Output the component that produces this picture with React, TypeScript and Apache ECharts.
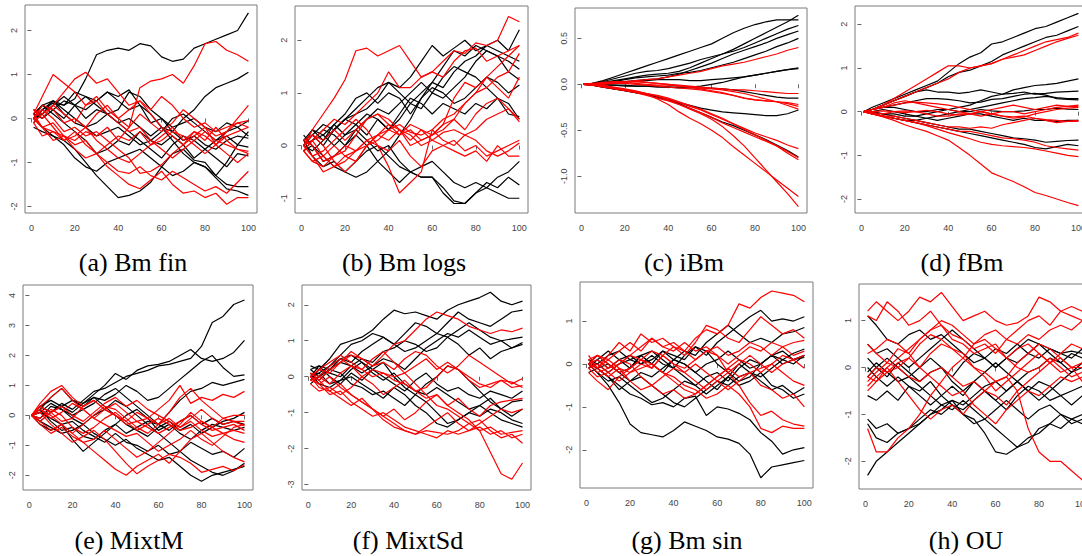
import React, { useEffect, useRef } from "react";
import * as echarts from "echarts";

// x positions sampled along each path
const X = [1, 5, 10, 15, 20, 25, 30, 35, 40, 45, 50, 55, 60, 65, 70, 75, 80, 85, 90, 95, 100];
const X_TICKS = [0, 20, 40, 60, 80, 100];

const CAPTIONS = ["(a) Bm fin", "(b) Bm logs", "(c) iBm", "(d) fBm", "(e) MixtM", "(f) MixtSd", "(g) Bm sin", "(h) OU"];

const A_TICKS = [-2, -1, 0, 1, 2];
const B_TICKS = [-1, 0, 1, 2];
const C_TICKS = [-1.0, -0.5, 0.0, 0.5];
const D_TICKS = [-2, -1, 0, 1, 2];
const E_TICKS = [-2, -1, 0, 1, 2, 3, 4];
const F_TICKS = [-3, -2, -1, 0, 1, 2];
const G_TICKS = [-2, -1, 0, 1];
const H_TICKS = [-2, -1, 0, 1];

const A_BLACK = [
  [0, 0.2, 0.35, 0.3, 0.45, 0.9, 1.45, 1.55, 1.6, 1.55, 1.7, 1.65, 1.4, 1.3, 1.35, 1.6, 1.7, 1.8, 1.9, 2.0, 2.4],
  [0.1, 0.3, 0.4, 0.3, 0.6, 0.5, 0.4, 0.6, 0.5, 0.65, 0.3, 0.1, -0.2, -0.3, 0.0, 0.2, 0.5, 0.7, 0.8, 0.9, 1.05],
  [0, -0.2, -0.4, -0.5, -0.7, -1.0, -1.3, -1.55, -1.8, -1.75, -1.65, -1.45, -1.1, -0.8, -0.7, -0.95, -1.0, -1.3, -1.5, -1.55, -1.55],
  [-0.2, -0.3, -0.4, -0.6, -0.9, -1.1, -1.2, -1.0, -0.9, -0.8, -0.7, -0.9, -1.1, -1.3, -1.2, -1.0, -1.1, -1.35, -1.6, -1.65, -1.75],
  [0.1, 0.3, 0.2, 0.4, 0.3, 0.5, 0.3, 0.1, 0.2, 0.6, 0.5, 0.2, 0.0, -0.2, -0.1, 0.0, -0.2, -0.3, -0.1, -0.2, -0.4],
  [0.0, 0.1, 0.4, 0.2, 0.0, -0.2, -0.1, 0.1, -0.1, -0.3, -0.5, -0.7, -0.9, -0.6, -0.4, -0.5, -0.7, -0.9, -1.1, -0.8, -0.85],
  [-0.1, 0.2, 0.4, 0.1, -0.1, -0.2, -0.4, -0.3, -0.2, -0.4, -0.6, -0.5, -0.3, 0.0, 0.1, -0.1, -0.3, -0.5, -0.4, -0.6, -0.65],
  [0.2, 0.1, 0.3, 0.5, 0.3, 0.0, 0.2, 0.1, -0.1, 0.0, -0.2, -0.4, -0.2, -0.5, -0.8, -1.0, -1.1, -1.3, -1.0, -0.6, -0.3],
  [0.0, 0.3, 0.1, -0.1, -0.3, -0.5, -0.8, -0.7, -0.5, -0.6, -0.3, -0.5, -0.6, -0.4, -0.6, -0.9, -0.7, -0.5, -0.3, -0.2, -0.05],
  [0.1, 0.0, 0.2, 0.0, 0.3, 0.2, 0.4, 0.6, 0.4, 0.2, 0.3, -0.1, 0.0, -0.3, -0.5, -0.4, -0.6, -0.7, -0.5, -0.4, -0.45],
];
const A_RED = [
  [0.1, 0.5, 1.0, 0.8, 0.6, 0.3, 0.5, 0.2, 0.0, -0.2, 0.1, -0.1, -0.3, -0.1, 0.2, 0.0, -0.2, -0.4, -0.3, -0.1, -0.05],
  [0.0, -0.2, -0.3, -0.4, -0.5, -0.3, -0.4, -0.2, -0.5, -0.2, 0.7, 0.85, 0.9, 1.0, 0.8, 1.2, 1.7, 1.75, 1.55, 1.45, 1.3],
  [0.2, 0.1, 0.3, 0.6, 0.9, 1.05, 0.8, 0.9, 0.6, 0.3, 0.4, 0.2, 0.5, 0.3, 0.0, -0.2, -0.1, -0.3, -0.2, -0.1, -0.2],
  [-0.1, -0.4, -0.3, -0.5, -0.3, -0.6, -0.8, -0.6, -0.4, -0.5, -0.3, -0.6, -0.4, -0.2, -0.5, -0.3, -0.4, -0.6, -0.3, 0.0, 0.3],
  [0.0, -0.2, -0.5, -0.4, -0.7, -0.9, -0.8, -1.1, -1.3, -1.5, -1.6, -1.4, -1.2, -1.5, -1.7, -1.65, -1.8, -1.7, -1.95, -1.8, -1.8],
  [0.1, -0.2, -0.1, -0.4, -0.6, -0.5, -0.8, -1.0, -1.2, -1.25, -1.1, -1.3, -1.4, -1.2, -1.35, -1.5, -1.65, -1.55, -1.7, -1.45, -1.2],
  [0.0, 0.2, 0.0, -0.3, -0.2, -0.4, -0.3, -0.5, -0.7, -0.9, -1.25, -1.2, -1.05, -0.8, -0.6, -0.3, -0.5, -0.2, -0.5, -0.7, -0.8],
  [0.2, 0.0, 0.3, 0.1, -0.1, 0.3, 0.4, 0.1, -0.1, -0.3, -0.2, -0.5, -0.7, -0.9, -0.7, -0.5, -0.3, -0.5, -0.6, -0.7, -0.75],
  [-0.1, 0.1, -0.2, -0.5, -0.4, -0.2, -0.5, -0.7, -0.9, -1.0, -0.8, -0.6, -0.5, -0.3, -0.4, -0.6, -0.8, -0.6, -0.4, -0.3, -0.2],
  [0.0, 0.3, 0.2, -0.1, 0.0, -0.2, 0.1, 0.3, 0.0, 0.2, 0.4, 0.1, -0.2, -0.4, -0.6, -0.4, -0.2, -0.6, -0.8, -1.0, -0.8],
];

const B_BLACK = [
  [0.1, 0.2, 0.0, 0.3, 0.5, 0.7, 0.9, 1.1, 1.2, 1.1, 1.3, 1.6, 1.9, 1.7, 1.85, 2.0, 1.8, 1.9, 2.0, 1.8, 2.2],
  [0.0, 0.3, 0.1, 0.4, 0.6, 0.9, 1.0, 0.8, 1.0, 0.9, 0.6, 0.9, 1.2, 1.5, 1.8, 1.7, 1.9, 1.8, 1.7, 1.6, 1.45],
  [-0.1, 0.1, 0.3, 0.2, 0.0, 0.3, 0.5, 0.7, 0.6, 0.8, 1.0, 1.2, 1.0, 1.3, 1.5, 1.4, 1.3, 1.1, 0.9, 0.8, 0.5],
  [0.2, 0.0, -0.2, -0.4, -0.5, -0.6, -0.5, -0.3, -0.1, 0.2, 0.5, 0.9, 1.1, 1.0, 0.8, 0.9, 1.1, 1.3, 1.2, 1.0, 1.15],
  [0.0, 0.1, 0.2, 0.4, 0.2, 0.3, 0.1, -0.1, 0.0, -0.3, -0.5, -0.6, -0.6, -0.8, -1.05, -1.1, -0.9, -0.8, -0.6, -0.5, -0.3],
  [0.1, -0.2, -0.4, -0.3, -0.5, -0.3, -0.1, 0.0, -0.2, -0.4, -0.5, -0.6, -0.6, -0.9, -1.1, -1.1, -0.9, -0.7, -0.8, -0.6, -0.75],
  [-0.1, 0.0, -0.3, -0.2, 0.0, 0.2, 0.0, -0.3, -0.5, -0.7, -0.5, -0.4, -0.3, -0.5, -0.7, -0.8, -0.7, -0.8, -0.9, -1.0, -1.0],
  [0.0, 0.2, 0.4, 0.3, 0.5, 0.6, 0.7, 0.9, 1.2, 1.0, 0.8, 0.7, 1.0, 0.9, 1.1, 1.3, 1.6, 1.8, 1.7, 1.4, 1.25],
  [0.1, 0.3, 0.2, 0.0, 0.2, 0.4, 0.2, 0.5, 0.3, 0.6, 0.9, 0.8, 0.6, 0.8, 0.7, 0.6, 0.8, 0.7, 0.9, 0.6, 0.55],
  [0.0, -0.1, 0.1, 0.3, 0.5, 0.4, 0.6, 0.5, 0.3, 0.5, 0.8, 1.0, 1.2, 1.1, 1.4, 1.6, 1.7, 1.9, 1.8, 1.7, 1.6],
];
const B_RED = [
  [0.0, 0.3, 0.6, 0.9, 1.25, 1.8, 1.85, 1.7, 1.8, 1.9, 1.6, 1.3, 1.4, 1.6, 1.8, 1.75, 1.95, 1.9, 2.0, 2.45, 2.35],
  [-0.1, 0.1, 0.3, 0.5, 0.4, 0.6, 0.8, 1.0, 1.4, 1.1, 1.1, 1.3, 1.4, 1.3, 1.6, 1.8, 1.85, 1.6, 1.7, 1.8, 1.9],
  [0.0, -0.2, -0.1, 0.1, 0.3, 0.5, 0.3, 0.0, -0.4, -0.9, -0.7, -0.5, 0.3, 0.5, 0.6, 0.8, 1.0, 1.1, 1.3, 1.4, 1.75],
  [0.1, 0.0, -0.3, -0.2, -0.1, 0.2, 0.5, 0.6, 0.4, 0.2, 0.3, 0.1, 0.2, 0.4, 0.9, 1.2, 1.1, 1.3, 1.1, 0.9, 1.3],
  [-0.1, -0.3, -0.2, 0.0, -0.2, -0.1, 0.1, 0.2, 0.3, 0.4, 0.25, 0.2, 0.3, 0.1, 0.0, 0.2, 0.3, 0.5, 0.6, 0.7, 0.5],
  [0.0, 0.1, -0.2, -0.4, -0.3, -0.1, 0.0, 0.2, 0.1, 0.3, 0.2, 0.0, 0.1, 0.25, 0.3, 0.2, 0.1, -0.1, -0.2, -0.1, 0.05],
  [0.1, 0.2, 0.0, -0.3, -0.5, -0.3, 0.0, 0.1, 0.3, 0.2, 0.4, 0.3, 0.1, 0.0, -0.1, -0.2, -0.1, -0.3, 0.0, -0.2, -0.2],
  [0.0, -0.2, -0.5, -0.4, -0.2, -0.3, 0.0, 0.2, 0.4, 0.3, 0.1, 0.3, 0.2, 0.4, 0.5, 0.3, 0.6, 0.8, 0.9, 0.7, 0.45],
  [0.0, 0.2, 0.1, 0.3, 0.1, 0.3, 0.5, 0.6, 0.5, 0.3, 0.0, 0.1, 0.2, 0.3, 0.5, 0.8, 1.0, 1.3, 1.5, 1.7, 1.9],
  [-0.1, -0.3, -0.4, -0.2, 0.0, -0.1, 0.1, 0.0, -0.1, 0.1, -0.2, -0.4, -0.1, 0.0, 0.1, -0.1, 0.0, -0.2, -0.1, 0.0, 0.1],
];

const C_BLACK = [
  [0, 0.01, 0.04, 0.08, 0.12, 0.16, 0.2, 0.24, 0.28, 0.32, 0.36, 0.4, 0.44, 0.5, 0.56, 0.61, 0.65, 0.68, 0.7, 0.7, 0.7],
  [0, 0.0, 0.02, 0.04, 0.06, 0.08, 0.1, 0.11, 0.12, 0.14, 0.18, 0.23, 0.28, 0.33, 0.38, 0.44, 0.5, 0.56, 0.62, 0.68, 0.75],
  [0, 0.01, 0.03, 0.06, 0.09, 0.12, 0.14, 0.15, 0.17, 0.2, 0.23, 0.27, 0.3, 0.33, 0.36, 0.4, 0.45, 0.5, 0.55, 0.6, 0.64],
  [0, 0.0, 0.01, 0.02, 0.03, 0.04, 0.05, 0.06, 0.08, 0.11, 0.15, 0.19, 0.23, 0.28, 0.33, 0.37, 0.41, 0.45, 0.5, 0.54, 0.58],
  [0, 0.0, 0.01, 0.03, 0.05, 0.07, 0.08, 0.09, 0.1, 0.12, 0.13, 0.15, 0.18, 0.21, 0.24, 0.28, 0.32, 0.36, 0.41, 0.45, 0.5],
  [0, 0.0, 0.0, -0.01, -0.01, -0.02, -0.02, -0.02, -0.03, -0.03, -0.03, -0.02, 0.0, 0.02, 0.05, 0.08, 0.1, 0.12, 0.14, 0.16, 0.18],
  [0, 0.0, 0.01, 0.02, 0.03, 0.03, 0.04, 0.05, 0.05, 0.05, 0.04, 0.04, 0.05, 0.06, 0.07, 0.08, 0.1, 0.12, 0.14, 0.16, 0.17],
  [0, 0.0, -0.01, -0.01, -0.02, -0.02, -0.02, -0.03, -0.03, -0.04, -0.04, -0.04, -0.04, -0.05, -0.06, -0.08, -0.1, -0.12, -0.14, -0.15, -0.15],
  [0, -0.01, -0.03, -0.05, -0.07, -0.09, -0.11, -0.14, -0.17, -0.2, -0.23, -0.26, -0.28, -0.3, -0.31, -0.32, -0.33, -0.34, -0.34, -0.32, -0.28],
  [0, -0.01, -0.03, -0.05, -0.07, -0.09, -0.11, -0.14, -0.17, -0.21, -0.26, -0.31, -0.36, -0.41, -0.45, -0.5, -0.55, -0.6, -0.66, -0.72, -0.79],
];
const C_RED = [
  [0, 0.0, 0.01, 0.02, 0.03, 0.04, 0.05, 0.06, 0.08, 0.1, 0.12, 0.14, 0.17, 0.2, 0.22, 0.24, 0.27, 0.3, 0.33, 0.37, 0.4],
  [0, 0.01, 0.02, 0.03, 0.03, 0.03, 0.02, 0.01, 0.0, -0.01, -0.02, -0.03, -0.04, -0.05, -0.06, -0.06, -0.07, -0.08, -0.09, -0.1, -0.1],
  [0, 0.0, 0.01, 0.02, 0.02, 0.01, 0.0, -0.01, -0.01, -0.02, -0.03, -0.05, -0.07, -0.09, -0.12, -0.15, -0.17, -0.18, -0.19, -0.2, -0.22],
  [0, 0.0, 0.0, 0.01, 0.01, 0.0, -0.01, -0.02, -0.03, -0.04, -0.05, -0.06, -0.08, -0.1, -0.12, -0.15, -0.17, -0.18, -0.19, -0.21, -0.24],
  [0, 0.0, 0.01, 0.02, 0.03, 0.03, 0.02, 0.01, 0.0, -0.02, -0.03, -0.04, -0.05, -0.06, -0.08, -0.1, -0.13, -0.16, -0.19, -0.23, -0.27],
  [0, -0.01, -0.02, -0.04, -0.06, -0.08, -0.1, -0.13, -0.16, -0.2, -0.24, -0.28, -0.33, -0.38, -0.43, -0.48, -0.53, -0.57, -0.61, -0.66, -0.7],
  [0, -0.01, -0.02, -0.04, -0.06, -0.08, -0.1, -0.12, -0.15, -0.19, -0.23, -0.27, -0.32, -0.37, -0.43, -0.49, -0.55, -0.61, -0.67, -0.75, -0.82],
  [0, -0.01, -0.02, -0.04, -0.06, -0.08, -0.11, -0.16, -0.22, -0.3, -0.37, -0.43, -0.5, -0.58, -0.68, -0.77, -0.86, -0.95, -1.04, -1.13, -1.22],
  [0, 0.0, -0.01, -0.03, -0.05, -0.07, -0.1, -0.13, -0.17, -0.22, -0.27, -0.32, -0.38, -0.46, -0.56, -0.67, -0.8, -0.93, -1.06, -1.19, -1.33],
  [0, -0.01, -0.03, -0.05, -0.07, -0.09, -0.12, -0.15, -0.18, -0.22, -0.26, -0.31, -0.36, -0.42, -0.47, -0.52, -0.57, -0.62, -0.67, -0.73, -0.8],
];

const D_BLACK = [
  [0, 0.1, 0.2, 0.3, 0.4, 0.5, 0.6, 0.7, 0.9, 1.1, 1.25, 1.35, 1.55, 1.6, 1.7, 1.8, 1.9, 1.95, 2.05, 2.15, 2.25],
  [0, 0.05, 0.15, 0.25, 0.35, 0.45, 0.55, 0.65, 0.8, 0.9, 0.95, 1.05, 1.15, 1.3, 1.4, 1.5, 1.6, 1.7, 1.75, 1.85, 1.95],
  [0, 0.0, 0.05, 0.0, -0.05, -0.1, -0.05, 0.0, 0.05, 0.1, 0.15, 0.25, 0.35, 0.4, 0.5, 0.55, 0.6, 0.62, 0.65, 0.7, 0.75],
  [0, 0.05, 0.15, 0.25, 0.35, 0.45, 0.5, 0.45, 0.45, 0.42, 0.45, 0.5, 0.45, 0.4, 0.42, 0.45, 0.4, 0.42, 0.45, 0.46, 0.47],
  [0, 0.05, 0.1, 0.15, 0.2, 0.25, 0.3, 0.3, 0.28, 0.25, 0.2, 0.22, 0.28, 0.3, 0.35, 0.4, 0.42, 0.38, 0.3, 0.28, 0.27],
  [0, -0.05, -0.1, -0.15, -0.2, -0.2, -0.15, -0.1, -0.05, 0.0, 0.05, 0.1, 0.15, 0.2, 0.25, 0.3, 0.32, 0.35, 0.32, 0.3, 0.3],
  [0, 0.05, 0.1, 0.1, 0.05, 0.0, 0.0, 0.05, 0.05, 0.0, 0.0, 0.05, 0.02, 0.0, 0.0, 0.02, 0.05, 0.05, 0.08, 0.06, 0.05],
  [0, 0.0, -0.05, -0.05, -0.1, -0.1, -0.15, -0.2, -0.15, -0.1, -0.05, -0.05, -0.1, -0.15, -0.2, -0.15, -0.2, -0.2, -0.22, -0.2, -0.2],
  [0, -0.02, -0.05, -0.1, -0.15, -0.2, -0.25, -0.3, -0.35, -0.4, -0.4, -0.45, -0.5, -0.55, -0.6, -0.62, -0.65, -0.7, -0.68, -0.66, -0.65],
  [0, -0.05, -0.1, -0.15, -0.2, -0.25, -0.3, -0.35, -0.4, -0.45, -0.5, -0.55, -0.6, -0.65, -0.7, -0.75, -0.82, -0.85, -0.8, -0.75, -0.78],
];
const D_RED = [
  [0, 0.05, 0.15, 0.3, 0.45, 0.6, 0.75, 0.9, 1.05, 1.05, 1.0, 1.05, 1.1, 1.2, 1.3, 1.4, 1.5, 1.6, 1.65, 1.7, 1.8],
  [0, 0.05, 0.15, 0.25, 0.35, 0.45, 0.55, 0.65, 0.75, 0.9, 1.0, 1.05, 1.1, 1.2, 1.25, 1.3, 1.4, 1.5, 1.6, 1.68, 1.75],
  [0, 0.05, 0.1, 0.2, 0.25, 0.2, 0.15, 0.1, 0.05, 0.0, -0.05, 0.0, 0.05, 0.1, 0.15, 0.1, 0.05, 0.1, 0.15, 0.12, 0.15],
  [0, -0.02, -0.05, 0.0, 0.02, 0.0, -0.05, -0.1, -0.1, -0.05, -0.05, -0.1, -0.05, 0.0, 0.0, -0.05, 0.0, 0.05, 0.1, 0.12, 0.12],
  [0, 0.0, 0.02, 0.0, -0.02, 0.0, 0.03, 0.0, -0.05, -0.08, -0.05, 0.0, -0.05, -0.1, -0.12, -0.1, -0.15, -0.18, -0.2, -0.22, -0.2],
  [0, -0.05, -0.1, -0.1, -0.15, -0.2, -0.25, -0.3, -0.35, -0.35, -0.38, -0.35, -0.38, -0.3, -0.25, -0.2, -0.15, -0.2, -0.25, -0.22, -0.22],
  [0, -0.05, -0.1, -0.15, -0.2, -0.25, -0.3, -0.35, -0.4, -0.45, -0.45, -0.5, -0.55, -0.6, -0.62, -0.65, -0.7, -0.78, -0.82, -0.85, -0.88],
  [0, -0.05, -0.1, -0.15, -0.2, -0.25, -0.32, -0.4, -0.48, -0.55, -0.62, -0.7, -0.75, -0.78, -0.8, -0.82, -0.85, -0.9, -0.95, -1.0, -1.03],
  [0, -0.05, -0.12, -0.2, -0.3, -0.38, -0.45, -0.55, -0.65, -0.82, -1.0, -1.2, -1.4, -1.5, -1.6, -1.72, -1.85, -1.92, -2.0, -2.08, -2.15],
  [0, 0.05, 0.1, 0.15, 0.2, 0.22, 0.2, 0.18, 0.15, 0.1, 0.05, 0.0, -0.05, -0.1, -0.15, -0.12, -0.05, 0.0, 0.05, 0.08, 0.1],
];

const E_BLACK = [
  [0, 0.3, 0.1, 0.4, 0.2, 0.5, 0.8, 0.9, 1.1, 1.3, 1.4, 1.5, 1.65, 1.7, 1.8, 1.9, 2.3, 3.1, 3.3, 3.7, 3.85],
  [0, -0.2, 0.1, 0.3, 0.5, 0.4, 0.7, 1.0, 1.4, 1.2, 1.5, 1.65, 1.7, 1.8, 2.0, 2.2, 1.9, 1.8, 1.9, 2.1, 2.5],
  [0, 0.2, 0.6, 0.9, 0.5, 0.3, 0.6, 0.5, 0.7, 1.0, 0.8, 0.5, 0.6, 0.9, 1.2, 1.5, 1.8, 2.0, 1.6, 1.3, 1.35],
  [0, -0.1, 0.3, 0.2, 0.0, 0.2, 0.4, 0.7, 0.9, 0.6, 0.3, 0.0, -0.3, 0.1, 0.5, 0.8, 0.9, 1.1, 1.0, 1.1, 1.2],
  [0, 0.3, 0.5, 0.3, 0.1, 0.4, 0.6, 0.3, 0.0, -0.3, -0.5, -0.7, -0.4, -0.2, -0.5, -0.3, -0.6, -0.4, -0.2, -0.1, 0.1],
  [0, 0.2, -0.2, -0.5, -0.4, -0.7, -0.8, -0.5, -0.3, -0.6, -0.4, -0.2, -0.3, -0.5, -0.2, 0.0, -0.3, -0.1, -0.3, -0.2, -0.3],
  [0, -0.3, -0.5, -0.3, -0.8, -1.2, -0.9, -0.6, -0.3, 0.0, 0.2, -0.1, -0.5, -0.3, -0.6, -0.8, -0.5, -0.3, -0.4, -0.5, -0.4],
  [0, 0.1, 0.4, 0.2, -0.1, -0.3, 0.0, 0.2, 0.5, 0.3, 0.0, -0.3, -0.6, -0.9, -1.2, -0.9, -1.1, -1.3, -1.2, -1.4, -1.1],
  [0, -0.2, -0.4, -0.6, -0.5, -0.3, -0.6, -0.8, -1.0, -0.8, -1.1, -1.3, -1.5, -1.4, -1.7, -2.0, -2.2, -2.0, -1.9, -1.8, -1.7],
  [0, 0.1, -0.1, -0.3, -0.2, -0.5, -0.7, -0.9, -0.6, -0.9, -1.0, -1.2, -1.0, -1.3, -1.2, -1.5, -1.7, -1.9, -2.0, -1.85, -1.6],
];
const E_RED = [
  [0, 0.3, 0.6, 0.9, 0.5, 0.2, -0.1, 0.2, 0.4, 0.1, -0.2, -0.1, 0.2, 0.5, 1.0, 0.4, 0.6, 0.5, 0.7, 0.6, 0.8],
  [0, 0.4, 0.8, 1.0, 0.6, 0.3, 0.5, 0.2, 0.0, -0.2, 0.1, -0.1, -0.3, 0.1, 0.6, 0.9, 0.5, 0.2, -0.1, -0.2, -0.35],
  [0, -0.2, -0.5, -0.3, -0.6, -0.9, -1.2, -1.5, -1.8, -2.0, -1.7, -1.5, -1.3, -1.6, -1.2, -0.8, -0.6, -0.9, -1.2, -1.4, -1.55],
  [0, 0.1, -0.3, -0.6, -0.9, -0.7, -0.5, -0.8, -1.2, -1.6, -1.95, -1.7, -1.5, -1.3, -1.4, -1.6, -1.9, -1.8, -1.7, -1.85, -1.65],
  [0, 0.2, 0.0, -0.3, -0.6, -0.3, 0.0, 0.3, 0.2, -0.1, -0.4, -0.6, -0.3, -0.1, -0.4, -0.2, -0.5, -0.7, -0.6, -0.8, -0.9],
  [0, -0.1, 0.2, 0.0, -0.4, -0.6, -0.4, -0.1, 0.1, -0.2, -0.5, -0.3, -0.1, -0.3, -0.5, -0.4, -0.2, -0.4, -0.6, -0.5, -0.6],
  [0, 0.3, 0.1, -0.2, -0.1, 0.3, 0.5, 0.2, 0.0, -0.3, -0.2, -0.4, -0.6, -0.4, -0.2, 0.0, -0.3, -0.5, -0.4, -0.3, -0.5],
  [0, -0.3, -0.6, -0.4, -0.7, -0.9, -0.8, -0.5, -0.8, -1.1, -1.4, -1.2, -0.9, -0.6, -0.3, 0.1, -0.2, -0.4, -0.1, 0.0, 0.0],
  [0, 0.2, -0.1, 0.1, 0.4, 0.2, -0.1, -0.3, -0.5, -0.7, -0.6, -0.9, -1.2, -1.0, -0.8, -0.5, -0.8, -1.0, -0.7, -0.4, -0.3],
  [0, -0.2, 0.1, 0.3, 0.0, -0.2, 0.1, 0.4, 0.6, 0.3, 0.5, 0.2, 0.0, -0.2, -0.4, -0.1, 0.2, -0.1, -0.3, -0.2, -0.2],
];

const F_BLACK = [
  [0.3, 0.2, 0.5, 0.9, 1.0, 1.1, 1.3, 1.6, 1.85, 1.75, 1.8, 1.7, 1.6, 1.85, 2.0, 2.1, 2.2, 2.35, 2.1, 2.0, 2.1],
  [0.2, 0.0, 0.3, 0.6, 0.9, 1.0, 1.2, 1.1, 0.9, 1.2, 1.5, 1.4, 1.2, 1.5, 1.8, 1.6, 1.5, 1.4, 1.6, 1.8, 1.85],
  [0.0, 0.3, 0.2, 0.5, 0.4, 0.7, 0.9, 1.1, 0.9, 0.7, 0.8, 1.0, 1.2, 1.1, 1.3, 1.5, 1.3, 1.1, 1.0, 1.05, 1.1],
  [-0.1, 0.2, 0.1, 0.0, 0.3, 0.5, 0.4, 0.7, 0.8, 1.0, 0.9, 0.7, 0.8, 1.1, 0.9, 0.6, 0.8, 0.5, 0.7, 0.8, 0.95],
  [0.1, -0.1, 0.2, 0.4, 0.3, 0.1, 0.3, 0.5, 0.4, 0.2, 0.5, 0.8, 1.0, 1.2, 1.1, 1.3, 1.1, 0.9, 1.0, 0.8, 0.9],
  [0.0, 0.1, -0.2, -0.1, 0.2, 0.4, 0.2, 0.0, -0.2, -0.4, -0.1, 0.1, -0.2, -0.4, -0.3, -0.5, -0.6, -0.4, -0.5, -0.6, -0.4],
  [0.2, 0.3, 0.0, -0.2, 0.1, -0.1, 0.2, 0.4, 0.0, -0.3, -0.5, -0.7, -1.0, -1.3, -1.2, -1.0, -0.8, -0.6, -0.9, -0.7, -0.65],
  [-0.2, 0.0, 0.2, 0.1, -0.2, -0.3, -0.5, -0.4, -0.6, -0.8, -0.5, -0.2, 0.0, 0.3, 0.2, -0.1, -0.4, -0.7, -0.9, -1.1, -0.9],
  [0.1, -0.2, -0.3, -0.1, 0.0, -0.2, -0.4, -0.6, -0.3, -0.5, -0.8, -1.0, -1.3, -1.4, -1.2, -1.0, -1.1, -0.9, -1.0, -1.2, -1.3],
  [0.0, 0.1, 0.3, 0.5, 0.6, 0.4, 0.1, -0.1, 0.1, -0.2, -0.4, -0.5, -0.3, -0.5, -0.7, -0.9, -0.8, -1.0, -1.2, -1.3, -1.4],
];
const F_RED = [
  [0.0, -0.1, 0.2, 0.4, 0.6, 0.5, 0.3, 0.6, 0.9, 1.0, 1.3, 1.6, 1.8, 1.7, 1.6, 1.4, 1.3, 1.2, 1.3, 1.25, 1.35],
  [0.0, 0.2, 0.1, 0.4, 0.7, 0.5, 0.3, 0.4, 0.2, 0.5, 0.7, 0.6, 0.3, 0.1, 0.3, 0.6, 0.4, 0.2, 0.0, -0.2, -0.05],
  [-0.1, 0.0, -0.2, 0.1, 0.3, 0.2, 0.0, 0.1, -0.1, -0.2, -0.4, -0.3, 0.0, 0.3, 0.2, -0.1, -0.3, -0.2, -0.1, -0.3, -0.25],
  [0.0, -0.3, -0.4, -0.2, -0.5, -0.7, -0.9, -1.1, -0.9, -1.2, -1.0, -0.7, -0.5, -0.8, -0.6, -0.9, -1.1, -0.8, -0.7, -0.65, -0.6],
  [0.1, -0.1, -0.4, -0.6, -0.8, -0.6, -0.9, -1.2, -1.4, -1.5, -1.6, -1.4, -1.2, -1.0, -1.3, -1.5, -1.3, -1.1, -0.9, -1.0, -0.9],
  [-0.1, -0.2, 0.0, -0.3, -0.5, -0.7, -0.9, -1.1, -1.3, -1.5, -1.6, -1.5, -1.55, -1.6, -1.5, -1.3, -1.5, -1.4, -1.6, -1.55, -1.5],
  [0.0, -0.2, -0.5, -0.4, -0.7, -0.9, -1.1, -1.0, -1.2, -1.4, -1.5, -1.6, -1.7, -1.5, -1.6, -1.5, -1.4, -1.6, -1.5, -1.7, -1.6],
  [0.1, 0.0, 0.3, 0.5, 0.3, 0.0, -0.2, -0.5, -0.3, -0.1, -0.4, -0.6, -0.5, -0.8, -1.0, -1.2, -1.5, -2.1, -2.7, -2.85, -2.4],
  [0.0, 0.2, 0.4, 0.6, 0.4, 0.2, 0.5, 0.7, 0.4, 0.1, -0.2, -0.5, -0.8, -0.9, -1.1, -1.3, -1.2, -1.5, -1.7, -1.6, -1.85],
  [-0.2, -0.4, -0.3, -0.5, -0.3, 0.0, 0.2, 0.1, 0.0, 0.1, 0.3, 0.5, 0.2, 0.4, 0.2, 0.0, -0.2, -0.3, -0.1, -0.15, -0.3],
];

const G_BLACK = [
  [0, -0.2, -0.5, -0.9, -1.4, -1.6, -1.65, -1.7, -1.55, -1.35, -1.45, -1.55, -1.7, -1.75, -1.85, -2.1, -2.65, -2.4, -2.35, -2.3, -2.25],
  [0, -0.1, -0.3, -0.5, -0.7, -0.8, -0.95, -0.9, -1.0, -0.8, -0.75, -1.2, -1.0, -1.05, -1.15, -1.3, -1.6, -1.8, -2.1, -2.0, -1.95],
  [0, 0.1, -0.1, 0.1, 0.2, 0.0, 0.1, 0.3, 0.2, 0.1, 0.4, 0.2, 0.5, 0.7, 0.9, 1.1, 1.25, 1.0, 1.05, 1.0, 1.1],
  [-0.1, 0.1, 0.3, 0.1, -0.1, 0.2, 0.0, -0.2, 0.1, 0.3, 0.2, 0.5, 0.7, 0.9, 0.7, 0.5, 0.6, 0.5, 0.7, 0.75, 0.85],
  [0, -0.2, -0.4, -0.3, -0.5, -0.7, -0.9, -0.8, -0.6, -0.4, -0.5, -0.3, -0.2, -0.4, -0.1, 0.1, 0.0, 0.2, 0.1, 0.25, 0.35],
  [0.1, 0.0, 0.2, 0.3, 0.1, 0.2, 0.0, 0.3, 0.1, 0.0, -0.2, 0.0, 0.1, 0.3, 0.1, -0.1, 0.0, 0.2, 0.0, 0.1, 0.2],
  [-0.2, -0.1, 0.0, -0.2, -0.1, 0.2, 0.3, 0.1, -0.1, 0.2, 0.4, 0.3, 0.0, -0.2, -0.4, -0.3, 0.0, 0.2, 0.3, 0.1, 0.15],
  [0, 0.2, 0.0, -0.2, -0.4, -0.3, -0.5, -0.7, -0.9, -1.0, -0.8, -0.6, -0.4, -0.5, -0.3, -0.2, -0.4, -0.6, -0.5, -0.7, -0.55],
  [0.1, -0.1, -0.3, -0.6, -0.4, -0.2, -0.3, -0.1, 0.1, 0.0, -0.2, -0.4, -0.6, -0.3, -0.5, -0.4, -0.2, -0.5, -0.6, -0.8, -0.7],
  [-0.1, 0.0, -0.2, 0.0, 0.1, 0.0, 0.2, 0.0, -0.1, -0.3, -0.5, -0.7, -0.5, -0.3, 0.0, -0.2, -0.3, -0.1, 0.1, 0.0, 0.2],
];
const G_RED = [
  [0, 0.2, 0.1, 0.3, 0.5, 0.3, 0.6, 0.4, 0.5, 0.3, 0.6, 0.8, 0.7, 0.9, 1.4, 1.3, 1.55, 1.7, 1.65, 1.6, 1.45],
  [0.2, -0.1, 0.2, 0.5, 0.3, 0.7, 0.5, 0.6, 0.4, 0.2, 0.5, 0.9, 0.8, 0.6, 0.5, 0.8, 1.1, 0.9, 0.7, 0.8, 0.6],
  [-0.2, -0.4, -0.6, -0.3, -0.1, 0.1, 0.3, 0.2, 0.4, 0.3, 0.1, 0.3, 0.4, 0.2, 0.3, 0.5, 0.4, 0.2, 0.4, 0.5, 0.55],
  [0, 0.1, -0.1, 0.0, 0.2, 0.4, 0.6, 0.4, 0.3, 0.5, 0.3, 0.4, 0.2, 0.0, 0.2, 0.4, 0.3, 0.5, 0.4, 0.2, 0.3],
  [0, -0.1, 0.1, -0.1, -0.2, -0.1, 0.0, -0.2, -0.4, -0.6, -0.7, -0.5, -0.3, -0.1, 0.1, 0.0, -0.2, 0.0, 0.2, 0.1, 0.2],
  [0.1, -0.1, -0.3, -0.1, -0.4, -0.6, -0.5, -0.3, -0.1, -0.2, 0.0, -0.2, -0.4, -0.6, -0.4, -0.2, -0.1, 0.0, -0.2, -0.4, -0.5],
  [0, -0.2, -0.1, 0.1, 0.0, -0.3, -0.5, -0.7, -0.6, -0.8, -0.7, -0.5, -0.3, -0.1, -0.3, -0.2, -0.5, -0.6, -0.8, -0.7, -1.0],
  [-0.1, -0.3, -0.2, 0.0, 0.2, 0.1, -0.1, 0.2, 0.0, -0.1, 0.1, 0.3, 0.2, -0.2, -0.5, -0.9, -1.2, -1.1, -1.3, -1.4, -1.45],
  [0.1, 0.2, 0.0, -0.2, -0.1, 0.1, 0.0, -0.2, -0.3, -0.5, -0.6, -0.8, -0.7, -0.5, -0.7, -1.0, -1.5, -1.6, -1.45, -1.5, -1.5],
  [-0.1, 0.0, -0.2, -0.4, -0.2, 0.0, -0.1, 0.2, 0.0, -0.2, -0.4, -0.6, -0.4, -0.2, 0.0, 0.2, 0.0, -0.2, 0.0, 0.1, -0.1],
];

const H_BLACK = [
  [-2.3, -2.0, -1.8, -1.6, -1.4, -1.2, -1.0, -0.9, -0.7, -0.8, -0.6, -0.4, -0.3, -0.5, -0.3, -0.1, 0.0, 0.2, 0.1, 0.3, 0.2],
  [-1.1, -1.3, -1.2, -1.4, -1.3, -1.1, -0.9, -1.0, -0.8, -0.9, -0.7, -0.5, -0.7, -0.9, -0.6, -0.4, -0.5, -0.7, -0.6, -0.8, -0.6],
  [-1.2, -1.5, -1.6, -1.4, -1.3, -1.2, -1.0, -0.8, -0.9, -0.7, -0.9, -1.1, -1.3, -1.5, -1.7, -1.5, -1.4, -1.2, -1.3, -1.1, -1.2],
  [1.1, 0.9, 0.6, 0.5, 0.7, 0.8, 0.6, 0.7, 0.5, 0.3, 0.1, 0.2, 0.0, 0.2, 0.4, 0.6, 0.5, 0.4, 0.3, 0.35, 0.3],
  [-0.6, -0.7, -0.5, -0.7, -0.4, -0.5, -0.3, -0.6, -0.8, -1.0, -1.1, -1.4, -1.8, -1.85, -1.7, -1.6, -1.3, -1.2, -1.0, -1.1, -1.0],
  [0.2, 0.0, -0.2, 0.1, -0.1, -0.3, -0.1, 0.0, -0.3, -0.5, -0.3, -0.1, 0.1, -0.1, -0.3, -0.5, -0.7, -0.5, -0.3, -0.1, 0.0],
  [-0.1, 0.1, -0.1, -0.3, -0.2, 0.0, 0.2, 0.0, -0.2, 0.1, 0.3, 0.2, 0.4, 0.3, 0.5, 0.3, 0.2, 0.4, 0.3, 0.2, 0.4],
  [0.5, 0.3, 0.4, 0.2, 0.0, 0.2, 0.4, 0.6, 0.8, 0.6, 0.4, 0.2, 0.0, 0.2, 0.1, 0.3, 0.5, 0.3, 0.1, -0.1, 0.1],
  [0.0, -0.2, -0.4, -0.2, -0.4, -0.6, -0.8, -0.6, -0.4, -0.6, -0.3, -0.5, -0.7, -0.5, -0.3, -0.5, -0.3, -0.4, -0.6, -0.5, -0.4],
  [-0.2, 0.0, 0.2, 0.0, -0.2, -0.4, -0.6, -0.8, -0.7, -1.0, -1.2, -1.1, -0.9, -0.7, -0.9, -1.1, -0.9, -0.8, -1.0, -1.2, -1.1],
];
const H_RED = [
  [1.2, 1.4, 1.2, 1.0, 1.2, 1.5, 1.4, 1.6, 1.3, 1.0, 1.1, 1.2, 1.0, 0.9, 0.95, 1.1, 1.5, 1.4, 1.2, 1.3, 1.2],
  [1.1, 1.0, 1.4, 1.2, 0.9, 1.0, 1.2, 0.9, 0.7, 0.6, 0.4, 0.5, 0.3, 0.6, 0.8, 1.0, 1.1, 0.9, 1.2, 1.1, 1.0],
  [0.5, 0.3, 0.1, 0.4, 0.3, 0.6, 0.8, 0.9, 0.6, 0.5, 0.3, 0.4, 0.5, 0.2, 0.4, 0.5, 0.3, 0.1, 0.3, 0.5, 0.4],
  [-1.3, -1.8, -1.8, -1.5, -1.3, -1.0, -0.6, -0.3, 0.0, 0.2, 0.5, 0.7, 0.8, 0.6, 0.5, 0.7, 0.6, 0.8, 0.9, 0.8, 1.0],
  [-0.2, -0.3, 0.0, 0.2, 0.4, 0.6, 0.8, 1.0, 0.9, 0.7, 0.5, 0.6, 0.4, 0.2, 0.0, -0.1, 0.0, 0.2, 0.0, -0.2, -0.1],
  [-0.3, -0.1, 0.1, 0.0, -0.2, -0.3, -0.1, 0.0, -0.2, -0.4, -0.3, -0.5, -0.3, -0.2, -0.5, -1.3, -1.8, -2.0, -2.0, -2.2, -2.4],
  [-0.4, -0.2, 0.0, -0.3, -0.6, -0.9, -1.1, -0.9, -0.8, -1.0, -0.7, -0.5, -0.6, -0.8, -0.5, -0.3, -0.1, 0.1, 0.2, 0.0, 0.1],
  [0.3, 0.4, 0.6, 0.5, 0.3, 0.0, -0.2, -0.4, -0.6, -0.5, -0.8, -1.0, -1.2, -0.9, -0.7, -0.5, -0.6, -0.4, -0.2, -0.3, -0.2],
  [-0.2, 0.0, -0.1, 0.1, 0.2, 0.0, 0.3, 0.5, 0.4, 0.2, 0.0, -0.2, -0.5, -0.3, -0.1, 0.1, 0.3, 0.1, -0.1, 0.0, 0.0],
  [-0.5, -0.3, -0.1, 0.0, 0.2, 0.5, 0.7, 0.6, 0.4, 0.3, 0.0, -0.1, -0.3, -0.2, 0.1, 0.3, 0.5, 0.4, 0.2, 0.0, -0.3],
];

const PANEL_DATA = [
  { black: A_BLACK, red: A_RED, ticks: A_TICKS, decimals: 0 },
  { black: B_BLACK, red: B_RED, ticks: B_TICKS, decimals: 0 },
  { black: C_BLACK, red: C_RED, ticks: C_TICKS, decimals: 1 },
  { black: D_BLACK, red: D_RED, ticks: D_TICKS, decimals: 0 },
  { black: E_BLACK, red: E_RED, ticks: E_TICKS, decimals: 0 },
  { black: F_BLACK, red: F_RED, ticks: F_TICKS, decimals: 0 },
  { black: G_BLACK, red: G_RED, ticks: G_TICKS, decimals: 0 },
  { black: H_BLACK, red: H_RED, ticks: H_TICKS, decimals: 0 },
];

// layout: plot boxes (px), visible y ranges, caption centres
const LAYOUT = [
  { left: 25, top: 5, width: 232, height: 208, yMin: -2.15, yMax: 2.58, cx: 133, cy: 262 },
  { left: 295, top: 6, width: 233, height: 207, yMin: -1.28, yMax: 2.65, cx: 404, cy: 262 },
  { left: 575, top: 8, width: 232, height: 205, yMin: -1.4, yMax: 0.83, cx: 684, cy: 262 },
  { left: 855, top: 6, width: 232, height: 207, yMin: -2.32, yMax: 2.42, cx: 962, cy: 262 },
  { left: 23, top: 285, width: 230, height: 205, yMin: -2.49, yMax: 4.35, cx: 129, cy: 540 },
  { left: 302, top: 285, width: 229, height: 205, yMin: -3.15, yMax: 2.55, cx: 408, cy: 540 },
  { left: 580, top: 282, width: 233, height: 206, yMin: -2.89, yMax: 1.91, cx: 687, cy: 540 },
  { left: 859, top: 284, width: 232, height: 205, yMin: -2.59, yMax: 1.78, cx: 966, cy: 540 },
];
const X_MIN = -2.96;
const X_MAX = 103.96;

const TICK_FONT = "'Liberation Sans Narrow', 'Liberation Sans', Arial, sans-serif";
const CAPTION_FONT = "'Liberation Serif', 'DejaVu Serif', serif";

export default function App() {
  const ref = useRef<HTMLDivElement>(null);
  useEffect(() => {
    if (!ref.current) return;
    const chart = echarts.init(ref.current, null, { renderer: "svg" });
    const grids: any[] = [];
    const xAxes: any[] = [];
    const yAxes: any[] = [];
    const series: any[] = [];
    const graphics: any[] = [];
    PANEL_DATA.forEach((p, i) => {
      const L = LAYOUT[i];
      grids.push({
        left: L.left, top: L.top, width: L.width, height: L.height,
        show: true, borderColor: "#7a7a7a", borderWidth: 1, backgroundColor: "transparent",
        containLabel: false, outerBoundsMode: "none",
      });
      xAxes.push({
        gridIndex: i, type: "value", min: X_MIN, max: X_MAX,
        axisLine: { show: false },
        splitLine: { show: false },
        axisTick: { show: true, customValues: X_TICKS, length: 4, lineStyle: { color: "#666", width: 1 } },
        axisLabel: { show: true, customValues: X_TICKS, fontSize: 9, color: "#444", margin: 10, fontFamily: TICK_FONT },
      });
      yAxes.push({
        gridIndex: i, type: "value", min: L.yMin, max: L.yMax,
        axisLine: { show: false },
        splitLine: { show: false },
        axisTick: { show: true, customValues: p.ticks, length: 4, lineStyle: { color: "#666", width: 1 } },
        axisLabel: {
          show: true, customValues: p.ticks, rotate: 90, fontSize: 9, color: "#444", margin: 7, fontFamily: TICK_FONT,
          formatter: (v: number) => (p.decimals ? v.toFixed(p.decimals) : String(Math.round(v))),
        },
      });
      const addLine = (vals: number[], color: string) => {
        series.push({
          type: "line", xAxisIndex: i, yAxisIndex: i,
          data: X.map((x, j) => [x, vals[j]]),
          showSymbol: false, symbol: "none", silent: true,
          lineStyle: { color, width: 1.2 },
          emphasis: { disabled: true },
        });
      };
      p.black.forEach((v) => addLine(v, "#000000"));
      p.red.forEach((v) => addLine(v, "#ff0000"));
      graphics.push({
        type: "text", x: L.cx, y: L.cy,
        style: { text: CAPTIONS[i], fontSize: 26, fontFamily: CAPTION_FONT, fill: "#000", align: "center", verticalAlign: "middle" },
      });
    });
    chart.setOption({
      animation: false,
      backgroundColor: "#ffffff",
      grid: grids,
      xAxis: xAxes,
      yAxis: yAxes,
      series,
      graphic: graphics,
    });
    return () => chart.dispose();
  }, []);
  return <div ref={ref} style={{ position: "absolute", left: 0, top: 0, width: 1082, height: 556 }} />;
}
